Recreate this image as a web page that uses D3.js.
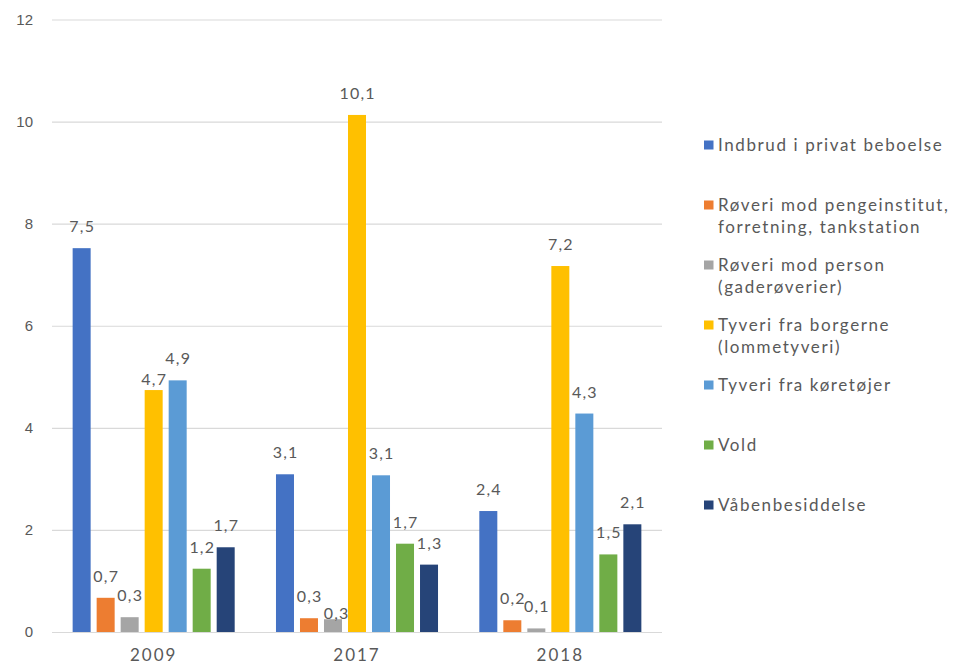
<!DOCTYPE html>
<html>
<head>
<meta charset="utf-8">
<script src="https://cdn.jsdelivr.net/npm/d3@7"></script>
<style>
  body { margin: 0; background: #fff; }
  svg text { font-family: "Lato", "Noto Sans", sans-serif; fill: #595959; }
</style>
</head>
<body>
<script>
const w = 955;
const h = 664;

// data
const years = ["2009", "2017", "2018"];
const seriesNames = [
    "Indbrud i privat beboelse",
    "Røveri mod pengeinstitut, forretning, tankstation",
    "Røveri mod person (gaderøverier)",
    "Tyveri fra borgerne (lommetyveri)",
    "Tyveri fra køretøjer",
    "Vold",
    "Våbenbesiddelse"
];
const legendLines = [
    ["Indbrud i privat beboelse"],
    ["Røveri mod pengeinstitut,", "forretning, tankstation"],
    ["Røveri mod person", "(gaderøverier)"],
    ["Tyveri fra borgerne", "(lommetyveri)"],
    ["Tyveri fra køretøjer"],
    ["Vold"],
    ["Våbenbesiddelse"]
];
const colors = ["#4472c4", "#ed7d31", "#a5a5a5", "#ffc000", "#5b9bd5", "#70ad47", "#264478"];
const values2009 = [7.52, 0.67, 0.29, 4.74, 4.93, 1.24, 1.66];
const values2017 = [3.09, 0.27, 0.25, 10.13, 3.07, 1.73, 1.32];
const values2018 = [2.37, 0.23, 0.07, 7.17, 4.28, 1.52, 2.11];
const yTicks = [0, 2, 4, 6, 8, 10, 12];

const valuesByYear = [values2009, values2017, values2018];

const svg = d3.select("body")
    .append("svg")
    .attr("width", w)
    .attr("height", h);

const x0 = d3.scaleBand()
    .domain(years)
    .range([52, 662]);

const x1 = d3.scaleBand()
    .domain(d3.range(seriesNames.length))
    .range([0, x0.bandwidth()])
    .paddingInner(0.25)
    .paddingOuter(0.86);

const yScale = d3.scaleLinear()
    .domain([0, 12])
    .range([632, 19.5]);

// gridlines + y labels
const yAxis = d3.axisLeft(yScale)
    .tickValues(yTicks)
    .tickSize(-(662 - 52))
    .tickPadding(19)
    .tickFormat(d3.format("d"));

svg.append("g")
    .attr("class", "yaxis")
    .attr("transform", "translate(52,0)")
    .call(yAxis)
    .call(g => g.select(".domain").remove())
    .call(g => g.selectAll("line").attr("stroke", "#d9d9d9").attr("stroke-width", 1.2))
    .call(g => g.selectAll("text")
        .style("font-family", "Liberation Sans, Arial, sans-serif")
        .style("font-size", "15px")
        .attr("fill", "#595959"));

// x labels
const xAxis = d3.axisBottom(x0).tickSize(0).tickPadding(17);
svg.append("g")
    .attr("class", "xaxis")
    .attr("transform", "translate(0,632)")
    .call(xAxis)
    .call(g => g.select(".domain").remove())
    .call(g => g.selectAll("text")
        .style("font-family", "Lato, sans-serif")
        .style("font-size", "17px")
        .style("letter-spacing", "2px")
        .attr("fill", "#595959"));

const fmt = v => d3.format(".1f")(v).replace(".", ",");

const groups = svg.selectAll("g.year")
    .data(years)
    .enter()
    .append("g")
    .attr("class", "year")
    .attr("transform", d => "translate(" + x0(d) + ",0)");

groups.selectAll("rect")
    .data((d, i) => valuesByYear[i].map((v, j) => ({ v: v, j: j })))
    .enter()
    .append("rect")
    .attr("x", d => x1(d.j))
    .attr("width", x1.bandwidth())
    .attr("y", d => yScale(d.v))
    .attr("height", d => yScale(0) - yScale(d.v))
    .attr("fill", d => colors[d.j]);

// data labels, with Excel-like collision nudges
groups.selectAll("text.lbl")
    .data((d, i) => valuesByYear[i].map((v, j, arr) => ({ v: v, j: j, prev: arr[j - 1], next: arr[j + 1] })))
    .enter()
    .append("text")
    .attr("class", "lbl")
    .attr("x", function(d) {
        let cx = x1(d.j) + x1.bandwidth() / 2 + 0.6;
        if (d.prev !== undefined && d.prev >= d.v && yScale(d.v) - yScale(d.prev) < 4) cx += 3;
        return cx;
    })
    .attr("y", function(d) {
        let off = 16;
        if (d.next !== undefined && d.next > d.v && yScale(d.v) - yScale(d.next) < 12) off = 5;
        if (d.prev !== undefined && d.prev >= d.v && yScale(d.v) - yScale(d.prev) < 4) off = 0;
        return yScale(d.v) - off;
    })
    .attr("text-anchor", "middle")
    .style("font-size", "16px")
    .style("letter-spacing", "1.2px")
    .text(d => fmt(d.v));

// legend
const legend = svg.append("g")
    .attr("class", "legend")
    .attr("transform", "translate(704,0)");

const items = legend.selectAll("g")
    .data(legendLines)
    .enter()
    .append("g")
    .attr("transform", (d, i) => "translate(0," + (145 + i * 60) + ")");

items.append("rect")
    .attr("x", 0)
    .attr("y", -4.5)
    .attr("width", 9.5)
    .attr("height", 9)
    .attr("fill", (d, i) => colors[i]);

items.append("text")
    .attr("x", 14)
    .attr("y", 0)
    .style("font-size", "17px")
    .style("letter-spacing", "1.6px")
    .selectAll("tspan")
    .data(d => d)
    .enter()
    .append("tspan")
    .attr("x", 14)
    .attr("dy", (d, i) => i === 0 ? "0.35em" : "22px")
    .text(d => d);
</script>
</body>
</html>
